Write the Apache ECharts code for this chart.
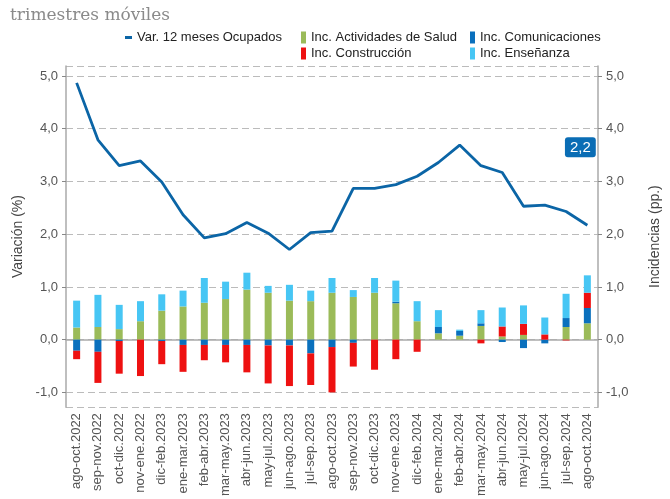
<!DOCTYPE html>
<html>
<head>
<meta charset="utf-8">
<script src="https://cdn.jsdelivr.net/npm/echarts@6/dist/echarts.min.js"></script>
<style>
  html, body { margin: 0; padding: 0; background: #fff; }
  #chart { width: 670px; height: 499px; }
</style>
</head>
<body>
<div id="chart"></div>
<script>
var categories = ['ago-oct.2022', 'sep-nov.2022', 'oct-dic.2022', 'nov-ene.2022', 'dic-feb.2023',
  'ene-mar.2023', 'feb-abr.2023', 'mar-may.2023', 'abr-jun.2023', 'may-jul.2023', 'jun-ago.2023',
  'jul-sep.2023', 'ago-oct.2023', 'sep-nov.2023', 'oct-dic.2023', 'nov-ene.2023', 'dic-feb.2024',
  'ene-mar.2024', 'feb-abr.2024', 'mar-may.2024', 'abr-jun.2024', 'may-jul.2024', 'jun-ago.2024',
  'jul-sep.2024', 'ago-oct.2024']

var varOcupados = [4.87, 3.79, 3.30, 3.39, 2.99, 2.37, 1.93, 2.01, 2.22, 2.02, 1.71, 2.03, 2.06,
  2.87, 2.87, 2.94, 3.10, 3.36, 3.69, 3.30, 3.17, 2.53, 2.55, 2.43, 2.17]
var incSalud = [0.23, 0.24, 0.20, 0.35, 0.55, 0.63, 0.70, 0.77, 0.95, 0.89, 0.74, 0.73, 0.89,
  0.81, 0.89, 0.69, 0.35, 0.12, 0.075, 0.26, 0.06, 0.09, 0.0, 0.24, 0.31]
var incComunicaciones = [-0.21, -0.23, -0.025, 0.0, -0.025, -0.10, -0.10, -0.10, -0.10, -0.11, -0.11,
  -0.26, -0.14, -0.06, 0.0, 0.03, 0.0, 0.12, 0.09, 0.05, -0.045, -0.16, -0.07, 0.17, 0.29]
var incConstruccion = [-0.16, -0.59, -0.62, -0.69, -0.44, -0.51, -0.29, -0.33, -0.52, -0.72, -0.77,
  -0.60, -0.86, -0.45, -0.57, -0.37, -0.23, 0.0, 0.0, -0.07, 0.19, 0.21, 0.10, -0.015, 0.29]
var incEnsenanza = [0.51, 0.61, 0.46, 0.38, 0.31, 0.30, 0.47, 0.33, 0.32, 0.13, 0.30, 0.20, 0.28,
  0.13, 0.28, 0.40, 0.38, 0.32, 0.025, 0.25, 0.36, 0.35, 0.32, 0.46, 0.33]

var lastLabel = '2,2'

var chart = echarts.init(document.getElementById('chart'))

var fmt = function(v) {
  // only whole numbers get a label
  if (Math.abs(v - Math.round(v)) > 0.001) return ''
  return v.toFixed(1).replace('.', ',')
}

var lastIdx = varOcupados.length - 1

function legendItem(name, left, top, icon, w, h) {
  return {
    data: [name],
    left: left,
    top: top,
    icon: icon,
    itemWidth: w,
    itemHeight: h,
    itemGap: 5,
    textStyle: { fontSize: 13, color: '#222', fontFamily: 'Liberation Sans' }
  }
}

function valueAxis(name, gap, showSplit) {
  return {
    type: 'value',
    min: -1.28,
    max: 5.19,
    splitNumber: 6,
    name: name,
    nameLocation: 'middle',
    nameGap: gap,
    nameTextStyle: { fontSize: 14, color: '#444', fontFamily: 'Liberation Sans' },
    axisLine: { show: true, lineStyle: { color: '#aaa', width: 1.5 } },
    axisTick: { show: true, length: 4, lineStyle: { color: '#888' } },
    axisLabel: { fontSize: 13, color: '#555', formatter: fmt, fontFamily: 'Liberation Sans', showMinLabel: false, showMaxLabel: false },
    splitLine: { show: showSplit, lineStyle: { color: '#bbb', type: [7, 4], width: 1.2 } }
  }
}

chart.setOption({
  backgroundColor: '#fff',
  animation: false,
  title: {
    text: 'trimestres móviles',
    left: 5,
    top: 2,
    textStyle: {
      fontFamily: 'DejaVu Serif',
      fontWeight: 'normal',
      fontSize: 17,
      color: '#8a8a8a'
    }
  },
  legend: [
    legendItem('Var. 12 meses Ocupados', 120, 26, 'rect', 7, 3),
    legendItem('Inc. Actividades de Salud', 296, 26, 'rect', 5, 12),
    legendItem('Inc. Comunicaciones', 465, 26, 'rect', 5, 12),
    legendItem('Inc. Construcción', 296, 42, 'rect', 5, 12),
    legendItem('Inc. Enseñanza', 465, 42, 'rect', 5, 12)
  ],
  grid: {
    left: 66,
    right: 72,
    top: 66,
    bottom: 89
  },
  xAxis: {
    type: 'category',
    data: categories,
    axisLine: { lineStyle: { color: '#aaa', width: 1.5 } },
    axisTick: { alignWithLabel: true, length: 4, lineStyle: { color: '#888' } },
    axisLabel: {
      rotate: 90,
      interval: 0,
      fontSize: 13,
      color: '#555',
      margin: 6,
      fontFamily: 'Liberation Sans'
    }
  },
  yAxis: [
    valueAxis('Variación (%)', 38, true),
    valueAxis('Incidencias (pp.)', 50, false)
  ],
  series: [{
    name: 'Inc. Actividades de Salud',
    type: 'bar',
    stack: 'inc',
    yAxisIndex: 1,
    barWidth: 7,
    itemStyle: { color: '#9bbb59' },
    data: incSalud
  }, {
    name: 'Inc. Comunicaciones',
    type: 'bar',
    stack: 'inc',
    yAxisIndex: 1,
    barWidth: 7,
    itemStyle: { color: '#0a70bd' },
    data: incComunicaciones
  }, {
    name: 'Inc. Construcción',
    type: 'bar',
    stack: 'inc',
    yAxisIndex: 1,
    barWidth: 7,
    itemStyle: { color: '#ee1111' },
    data: incConstruccion
  }, {
    name: 'Inc. Enseñanza',
    type: 'bar',
    stack: 'inc',
    yAxisIndex: 1,
    barWidth: 7,
    itemStyle: { color: '#47c6f4' },
    data: incEnsenanza
  }, {
    name: 'Var. 12 meses Ocupados',
    type: 'line',
    yAxisIndex: 0,
    showSymbol: false,
    z: 5,
    lineStyle: { color: '#0b65a6', width: 2.8 },
    itemStyle: { color: '#0b65a6' },
    data: varOcupados,
    markPoint: {
      symbol: 'circle',
      symbolSize: 0,
      data: [{
        coord: [lastIdx, varOcupados[lastIdx]],
        label: {
          show: true,
          position: 'top',
          offset: [-7, -63],
          formatter: lastLabel,
          color: '#fff',
          fontSize: 15,
          fontFamily: 'Liberation Sans',
          backgroundColor: '#0a6db5',
          borderRadius: 3,
          padding: [3, 5, 2, 5]
        }
      }]
    }
  }]
})
</script>
</body>
</html>
